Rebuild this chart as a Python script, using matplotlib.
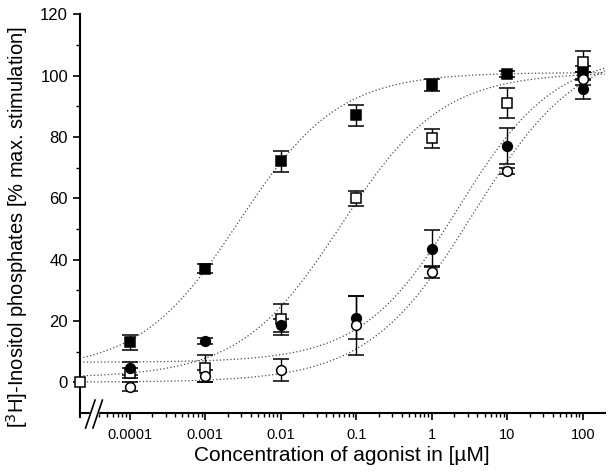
import numpy as np
import matplotlib
matplotlib.use("Agg")
import matplotlib.pyplot as plt
from matplotlib.ticker import FixedLocator, FixedFormatter, NullFormatter

plt.rcParams["font.family"] = ["Liberation Sans", "DejaVu Sans"]

# concentrations in uM (the 0 point is drawn on the y axis, left of the break)
conc = [1e-4, 1e-3, 1e-2, 1e-1, 1, 10, 100]
tick_labels = ["0.0001", "0.001", "0.01", "0.1", "1", "10", "100"]
x_left = 2.2e-5
x_right = 195

# filled squares
fsq_y = [13, 37, 72, 87, 97, 100.5, 101]
fsq_err = [2.5, 1.5, 3.5, 3.5, 2, 1, 2]
# open squares (first value is the zero-concentration control)
osq_zero = 0
osq_y = [3, 4.5, 20.5, 60, 79.5, 91, 104.5]
osq_err = [1.5, 4.5, 5, 2.5, 3, 5, 3.5]
# filled circles
fci_y = [4.5, 13.5, 18.5, 21, 43.5, 77, 95.5]
fci_err = [2, 1, 2, 7, 6, 6, 3]
# open circles
oci_y = [-1.5, 2, 4, 18.5, 36, 69, 99]
oci_err = [1.5, 2, 3.5, 9.5, 2, 1, 2]

# fitted sigmoid curves: bottom, top, log EC50, hill slope
fsq_fit = [4, 101, -2.55, 0.66]
osq_fit = [1.5, 101, -1.2, 0.65]
fci_fit = [6.5, 107, 0.35, 0.68]
oci_fit = [0, 110, 0.55, 0.62]


def hill(x, fit):
    bottom, top, logec, h = fit
    return bottom + (top - bottom) / (1 + 10 ** ((logec - np.log10(x)) * h))


fig = plt.figure(figsize=(6.14, 4.74), dpi=100)
ax = fig.add_axes([0.130, 0.129, 0.855, 0.841])

xs = np.logspace(np.log10(x_left), np.log10(x_right), 300)
for fit in [fsq_fit, osq_fit, fci_fit, oci_fit]:
    ax.plot(xs, hill(xs, fit), color="#4d4d4d", lw=0.9, ls=(0, (1, 1.8)), zorder=1)

eb = dict(ecolor="black", elinewidth=1.0, capsize=5.5, capthick=1.0, ls="none",
          markeredgecolor="black", markeredgewidth=1.1, zorder=3)
ax.errorbar(conc, fsq_y, yerr=fsq_err, marker="s", ms=6.5, mfc="black", **eb)
ax.errorbar(conc, osq_y, yerr=osq_err, marker="s", ms=6.5, mfc="white", **eb)
ax.errorbar(conc, fci_y, yerr=fci_err, marker="o", ms=7, mfc="black", **eb)
ax.errorbar(conc, oci_y, yerr=oci_err, marker="o", ms=7, mfc="white", **eb)
ax.plot([x_left], [osq_zero], marker="s", ms=6.5, mfc="white", mec="black",
        mew=1.1, ls="none", clip_on=False, zorder=4)

ax.set_xscale("log")
ax.set_xlim(x_left, x_right)
ax.set_ylim(-10, 120)

ax.xaxis.set_major_locator(FixedLocator(conc))
ax.xaxis.set_major_formatter(FixedFormatter(tick_labels))
minors = [m * 10.0 ** e for e in range(-5, 3) for m in range(2, 10)]
minors = [v for v in minors if 3.5e-5 < v < x_right]
ax.xaxis.set_minor_locator(FixedLocator(minors))
ax.xaxis.set_minor_formatter(NullFormatter())

ax.set_yticks([0, 20, 40, 60, 80, 100, 120])
ax.set_yticks([10, 30, 50, 70, 90, 110], minor=True)

ax.tick_params(which="major", direction="out", length=5, width=1.2)
ax.tick_params(which="minor", direction="out", length=3, width=1.0)
ax.tick_params(axis="x", labelsize=10.5, pad=6)
ax.tick_params(axis="y", labelsize=12)

for s in ["top", "right"]:
    ax.spines[s].set_visible(False)
for s in ["left", "bottom"]:
    ax.spines[s].set_linewidth(1.5)
ax.spines["left"].set_bounds(-11.5, 120)

# axis break marks on the x axis
for x0 in [0.020, 0.034]:
    ax.plot([x0 - 0.009, x0 + 0.009], [-0.038, 0.032], transform=ax.transAxes,
            color="black", lw=1.2, clip_on=False, zorder=5)
ax.plot([0.022, 0.032], [0, 0], transform=ax.transAxes, color="white",
        lw=2.5, clip_on=False, zorder=4.5)

ax.set_xlabel("Concentration of agonist in [\u00b5M]", fontsize=15, labelpad=3)
ax.set_ylabel("[$^3$H]-Inositol phosphates [% max. stimulation]", fontsize=14.5)
ax.yaxis.set_label_coords(-0.094, 0.465)

fig.savefig("out.png", dpi=100)
